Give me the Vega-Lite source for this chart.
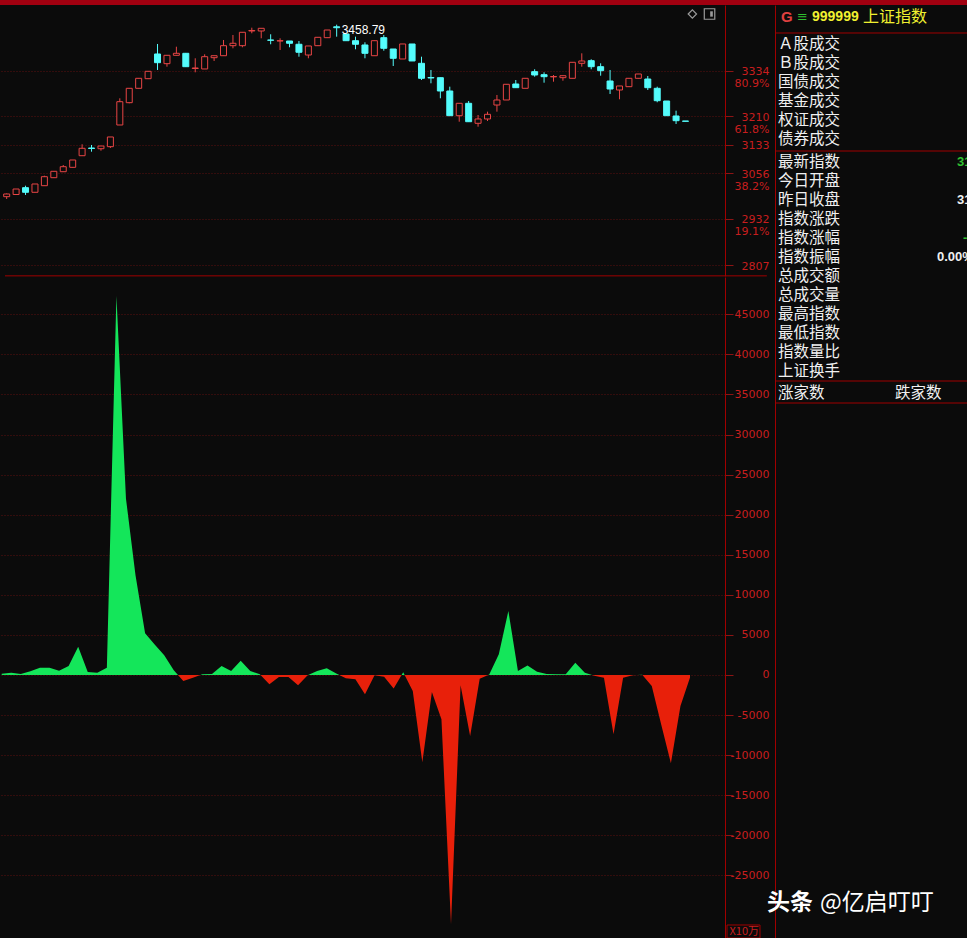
{
  "$schema": "https://vega.github.io/schema/vega-lite/v6.json",
  "background": "#0b0b0b",
  "padding": 0,
  "spacing": 0,
  "bounds": "flush",
  "config": {"view": {"stroke": null}, "font": "DejaVu Sans"},
  "datasets": {
    "days": [
      {"i":0,"o":2992.3,"h":3001.0,"l":2986.0,"c":2999.6,"v":166},
      {"i":1,"o":2998.2,"h":3013.1,"l":2998.2,"c":3013.1,"v":290},
      {"i":2,"o":3016.7,"h":3022.1,"l":2996.9,"c":3004.2,"v":125},
      {"i":3,"o":3004.2,"h":3026.7,"l":3004.2,"c":3026.7,"v":458},
      {"i":4,"o":3022.1,"h":3049.2,"l":3022.1,"c":3046.5,"v":915},
      {"i":5,"o":3043.8,"h":3061.1,"l":3043.8,"c":3061.1,"v":915},
      {"i":6,"o":3060.0,"h":3078.2,"l":3060.0,"c":3073.6,"v":541},
      {"i":7,"o":3071.9,"h":3091.8,"l":3071.9,"c":3091.8,"v":1123},
      {"i":8,"o":3103.4,"h":3134.4,"l":3103.4,"c":3123.5,"v":3536},
      {"i":9,"o":3124.3,"h":3132.5,"l":3114.3,"c":3123.0,"v":374},
      {"i":10,"o":3122.4,"h":3129.7,"l":3117.0,"c":3129.7,"v":290},
      {"i":11,"o":3127.9,"h":3154.2,"l":3124.3,"c":3154.2,"v":915},
      {"i":12,"o":3186.7,"h":3259.1,"l":3186.7,"c":3249.9,"v":47300},
      {"i":13,"o":3247.2,"h":3286.2,"l":3245.5,"c":3286.2,"v":22000},
      {"i":14,"o":3286.2,"h":3313.3,"l":3286.2,"c":3313.3,"v":12400},
      {"i":15,"o":3312.3,"h":3332.3,"l":3312.3,"c":3332.3,"v":5200},
      {"i":16,"o":3379.3,"h":3406.4,"l":3335.9,"c":3355.7,"v":3800},
      {"i":17,"o":3353.0,"h":3375.7,"l":3344.8,"c":3375.7,"v":2450},
      {"i":18,"o":3375.7,"h":3399.0,"l":3375.7,"c":3381.1,"v":580},
      {"i":19,"o":3381.1,"h":3382.0,"l":3344.0,"c":3344.8,"v":-750},
      {"i":20,"o":3339.9,"h":3367.6,"l":3329.6,"c":3341.3,"v":-330},
      {"i":21,"o":3338.6,"h":3378.4,"l":3338.6,"c":3371.9,"v":80},
      {"i":22,"o":3369.2,"h":3374.6,"l":3360.3,"c":3374.6,"v":125},
      {"i":23,"o":3374.6,"h":3417.2,"l":3374.6,"c":3401.8,"v":1120},
      {"i":24,"o":3401.8,"h":3430.8,"l":3394.7,"c":3408.3,"v":500},
      {"i":25,"o":3401.8,"h":3438.1,"l":3397.4,"c":3438.1,"v":1790},
      {"i":26,"o":3441.6,"h":3450.6,"l":3435.4,"c":3443.0,"v":500},
      {"i":27,"o":3441.6,"h":3448.9,"l":3421.8,"c":3448.9,"v":80},
      {"i":28,"o":3417.2,"h":3432.7,"l":3405.6,"c":3416.4,"v":-1165},
      {"i":29,"o":3414.5,"h":3421.8,"l":3390.1,"c":3415.3,"v":-250},
      {"i":30,"o":3414.5,"h":3414.5,"l":3397.4,"c":3408.3,"v":-250},
      {"i":31,"o":3405.6,"h":3414.5,"l":3371.9,"c":3383.9,"v":-1290},
      {"i":32,"o":3376.5,"h":3401.0,"l":3367.6,"c":3401.0,"v":-40},
      {"i":33,"o":3401.8,"h":3424.5,"l":3401.8,"c":3424.5,"v":500},
      {"i":34,"o":3423.5,"h":3444.3,"l":3423.5,"c":3444.3,"v":830},
      {"i":35,"o":3453.0,"h":3458.79,"l":3426.2,"c":3450.5,"v":200},
      {"i":36,"o":3433.5,"h":3433.5,"l":3415.3,"c":3415.3,"v":-416},
      {"i":37,"o":3415.3,"h":3426.2,"l":3392.0,"c":3405.6,"v":-540},
      {"i":38,"o":3403.7,"h":3411.0,"l":3367.6,"c":3381.1,"v":-2410},
      {"i":39,"o":3374.6,"h":3415.3,"l":3374.6,"c":3415.3,"v":-40},
      {"i":40,"o":3423.5,"h":3430.8,"l":3388.2,"c":3394.7,"v":-210},
      {"i":41,"o":3392.8,"h":3392.8,"l":3346.7,"c":3367.6,"v":-1700},
      {"i":42,"o":3365.7,"h":3406.4,"l":3365.7,"c":3406.4,"v":330},
      {"i":43,"o":3406.4,"h":3406.4,"l":3360.3,"c":3360.3,"v":-2000},
      {"i":44,"o":3354.0,"h":3371.9,"l":3308.7,"c":3313.3,"v":-10900},
      {"i":45,"o":3315.5,"h":3335.9,"l":3299.8,"c":3314.2,"v":-2120},
      {"i":46,"o":3315.0,"h":3315.0,"l":3259.1,"c":3278.9,"v":-5530},
      {"i":47,"o":3278.9,"h":3290.6,"l":3211.9,"c":3211.9,"v":-31100},
      {"i":48,"o":3211.9,"h":3245.5,"l":3195.6,"c":3245.5,"v":-1290},
      {"i":49,"o":3245.5,"h":3251.8,"l":3195.6,"c":3195.6,"v":-7600},
      {"i":50,"o":3191.3,"h":3213.8,"l":3182.1,"c":3203.0,"v":-460},
      {"i":51,"o":3203.0,"h":3222.8,"l":3197.5,"c":3215.7,"v":50},
      {"i":52,"o":3240.9,"h":3268.1,"l":3222.8,"c":3254.5,"v":2580},
      {"i":53,"o":3254.5,"h":3297.1,"l":3254.5,"c":3297.1,"v":7990},
      {"i":54,"o":3297.9,"h":3308.7,"l":3287.9,"c":3287.9,"v":500},
      {"i":55,"o":3286.2,"h":3313.3,"l":3286.2,"c":3313.3,"v":1200},
      {"i":56,"o":3331.3,"h":3337.8,"l":3317.7,"c":3322.3,"v":416},
      {"i":57,"o":3323.1,"h":3329.6,"l":3301.4,"c":3317.7,"v":125},
      {"i":58,"o":3317.2,"h":3322.3,"l":3304.1,"c":3318.2,"v":80},
      {"i":59,"o":3315.0,"h":3320.4,"l":3306.8,"c":3320.4,"v":80},
      {"i":60,"o":3313.3,"h":3356.7,"l":3313.3,"c":3356.7,"v":1540},
      {"i":61,"o":3354.0,"h":3381.1,"l":3344.8,"c":3360.3,"v":290},
      {"i":62,"o":3361.1,"h":3364.9,"l":3337.8,"c":3344.8,"v":-80},
      {"i":63,"o":3344.8,"h":3354.0,"l":3320.4,"c":3334.0,"v":-330},
      {"i":64,"o":3306.0,"h":3335.9,"l":3270.8,"c":3284.3,"v":-7400},
      {"i":65,"o":3281.6,"h":3292.5,"l":3256.4,"c":3292.5,"v":-330},
      {"i":66,"o":3290.6,"h":3313.3,"l":3290.6,"c":3313.3,"v":-40},
      {"i":67,"o":3313.3,"h":3325.0,"l":3313.3,"c":3325.0,"v":30},
      {"i":68,"o":3311.4,"h":3319.6,"l":3281.6,"c":3287.9,"v":-1370},
      {"i":69,"o":3286.2,"h":3290.6,"l":3248.3,"c":3252.6,"v":-6240},
      {"i":70,"o":3251.8,"h":3251.8,"l":3211.9,"c":3211.9,"v":-11000},
      {"i":71,"o":3211.1,"h":3225.5,"l":3189.4,"c":3198.4,"v":-3870},
      {"i":72,"o":3197.5,"h":3197.5,"l":3196.7,"c":3196.7,"v":-300}
    ],
    "info": [
      {"g":"s1","r":1,"t":"Ａ股成交"},
      {"g":"s1","r":2,"t":"Ｂ股成交"},
      {"g":"s1","r":3,"t":"国债成交"},
      {"g":"s1","r":4,"t":"基金成交"},
      {"g":"s1","r":5,"t":"权证成交"},
      {"g":"s1","r":6,"t":"债券成交"},
      {"g":"s2","r":7,"t":"最新指数"},
      {"g":"s2","r":8,"t":"今日开盘"},
      {"g":"s2","r":9,"t":"昨日收盘"},
      {"g":"s2","r":10,"t":"指数涨跌"},
      {"g":"s2","r":11,"t":"指数涨幅"},
      {"g":"s2","r":12,"t":"指数振幅"},
      {"g":"s2","r":13,"t":"总成交额"},
      {"g":"s2","r":14,"t":"总成交量"},
      {"g":"s2","r":15,"t":"最高指数"},
      {"g":"s2","r":16,"t":"最低指数"},
      {"g":"s2","r":17,"t":"指数量比"},
      {"g":"s2","r":18,"t":"上证换手"},
      {"g":"s3a","r":19,"t":"涨家数"},
      {"g":"s3b","r":19,"t":"跌家数"},
      {"g":"hG","r":0,"t":"G"},
      {"g":"hI","r":0,"t":"≡"},
      {"g":"hC","r":0,"t":"999999"},
      {"g":"hN","r":0,"t":"上证指数"},
      {"g":"v7","r":7,"t":"3196.74"},
      {"g":"v9","r":9,"t":"3197.48"},
      {"g":"v11","r":11,"t":"-0.02%"},
      {"g":"v12","r":12,"t":"0.00%"},
      {"g":"sep","r":0.421},
      {"g":"sep","r":6.632},
      {"g":"sep","r":18.737},
      {"g":"sep","r":19.895},
      {"g":"wm1","r":46.2,"t":"头条"},
      {"g":"wm2","r":46.2,"t":"@亿启叮叮"}
    ]
  },
  "vconcat": [
    {
      "width": 967,
      "height": 5,
      "view": {"fill": "#a00010", "stroke": null},
      "data": {"values": [{"k": 1}]},
      "mark": {"type": "rect", "color": "#a00010"},
      "encoding": {}
    },
    {
      "hconcat": [
        {
          "vconcat": [
            {
              "width": 725,
              "height": 271,
              "data": {"name": "days"},
              "encoding": {
                "x": {"field": "i", "type": "quantitative", "scale": {"domain": [-0.178, 75.66], "nice": false, "zero": false}, "axis": null}
              },
              "layer": [
                {
                  "mark": {"type": "rule", "strokeWidth": 1, "clip": true},
                  "encoding": {
                    "y": {
                      "field": "l", "type": "quantitative",
                      "scale": {"domain": [2777.2, 3512.1], "nice": false, "zero": false},
                      "axis": {
                        "orient": "right",
                        "values": [2807, 2932, 3056, 3133, 3210, 3334],
                        "labelExpr": "datum.value == 3334 ? ['3334', '80.9%'] : datum.value == 3210 ? ['3210', '61.8%'] : datum.value == 3056 ? ['3056', '38.2%'] : datum.value == 2932 ? ['2932', '19.1%'] : '' + datum.value",
                        "title": null,
                        "grid": true, "gridColor": "#5c1010", "gridDash": [1, 2],
                        "domain": true, "domainColor": "#a00000",
                        "ticks": true, "tickColor": "#8c1414", "tickSize": 8,
                        "labelColor": "#c81e1e", "labelFont": "DejaVu Sans", "labelFontSize": 11,
                        "labelAlign": "right", "labelPadding": 36, "labelBaseline": "top", "labelOffset": -5,
                        "labelLineHeight": 12, "labelOverlap": false, "labelBound": false, "labelFlush": false
                      }
                    },
                    "y2": {"field": "h"},
                    "color": {"condition": {"test": "datum.c >= datum.o", "value": "#e84545"}, "value": "#54fcfc"}
                  }
                },
                {
                  "mark": {"type": "bar", "width": 6, "strokeWidth": 1, "clip": true},
                  "encoding": {
                    "y": {"field": "o", "type": "quantitative"},
                    "y2": {"field": "c"},
                    "fill": {"condition": {"test": "datum.c >= datum.o", "value": "#0b0b0b"}, "value": "#54fcfc"},
                    "stroke": {"condition": {"test": "datum.c >= datum.o", "value": "#e84545"}, "value": "#54fcfc"}
                  }
                },
                {
                  "transform": [
                    {"joinaggregate": [{"op": "max", "field": "h", "as": "hmax"}]},
                    {"filter": "datum.h == datum.hmax"}
                  ],
                  "mark": {"type": "text", "align": "left", "baseline": "middle", "dx": 5, "dy": 5, "color": "#ffffff", "font": "Liberation Sans", "fontSize": 12},
                  "encoding": {
                    "y": {"field": "h", "type": "quantitative"},
                    "text": {"field": "h", "type": "quantitative", "format": ".2f"}
                  }
                },
                {
                  "transform": [{"filter": "datum.i == 72"}],
                  "mark": {"type": "point", "shape": "diamond", "filled": false, "size": 70, "stroke": "#9a9a9a", "strokeWidth": 1.2, "opacity": 1},
                  "encoding": {
                    "x": {"datum": 72.73, "type": "quantitative"},
                    "y": {"datum": 3487.7, "type": "quantitative"}
                  }
                },
                {
                  "transform": [{"filter": "datum.i == 72"}],
                  "mark": {"type": "point", "shape": "square", "filled": false, "size": 110, "stroke": "#9a9a9a", "strokeWidth": 1.2, "opacity": 1},
                  "encoding": {
                    "x": {"datum": 74.55, "type": "quantitative"},
                    "y": {"datum": 3487.7, "type": "quantitative"}
                  }
                },
                {
                  "transform": [{"filter": "datum.i == 72"}],
                  "mark": {"type": "rect", "fill": "#9a9a9a"},
                  "encoding": {
                    "x": {"datum": 74.62, "type": "quantitative"},
                    "x2": {"datum": 74.9},
                    "y": {"datum": 3495.0, "type": "quantitative"},
                    "y2": {"datum": 3480.5}
                  }
                },
                {
                  "transform": [{"filter": "datum.i == 72"}],
                  "mark": {"type": "rule", "color": "#a00000", "strokeWidth": 1},
                  "encoding": {
                    "x": {"datum": -0.178, "type": "quantitative"},
                    "x2": {"datum": 80.63},
                    "y": {"datum": 2777.6, "type": "quantitative"}
                  }
                }
              ]
            },
            {
              "width": 725,
              "height": 661,
              "data": {"name": "days"},
              "encoding": {
                "x": {"field": "i", "type": "quantitative", "scale": {"domain": [-0.178, 75.66], "nice": false, "zero": false}, "axis": null}
              },
              "layer": [
                {
                  "mark": {
                    "type": "area",
                    "interpolate": "linear",
                    "clip": true,
                    "fill": {
                      "gradient": "linear", "x1": 0, "y1": 0, "x2": 0, "y2": 1,
                      "stops": [
                        {"offset": 0, "color": "#14e65a"},
                        {"offset": 0.60332, "color": "#14e65a"},
                        {"offset": 0.60332, "color": "#e8200a"},
                        {"offset": 1, "color": "#e8200a"}
                      ]
                    }
                  },
                  "encoding": {
                    "y": {
                      "field": "v", "type": "quantitative",
                      "scale": {"domain": [-32814, 49657], "nice": false, "zero": false},
                      "axis": {
                        "orient": "right",
                        "values": [-25000, -20000, -15000, -10000, -5000, 0, 5000, 10000, 15000, 20000, 25000, 30000, 35000, 40000, 45000],
                        "labelExpr": "'' + datum.value",
                        "title": "X10万", "titleAngle": 0, "titleX": 4, "titleY": 654, "titleAlign": "left", "titleBaseline": "middle",
                        "titleColor": "#c81e1e", "titleFont": "Noto Sans CJK SC", "titleFontSize": 11, "titleFontWeight": "normal",
                        "grid": true, "gridColor": "#5c1010", "gridDash": [1, 2],
                        "domain": true, "domainColor": "#a00000",
                        "ticks": true, "tickColor": "#8c1414", "tickSize": 8,
                        "labelColor": "#c81e1e", "labelFont": "DejaVu Sans", "labelFontSize": 11,
                        "labelAlign": "right", "labelPadding": 36, "labelBaseline": "middle",
                        "labelOverlap": false, "labelBound": false, "labelFlush": false
                      }
                    },
                    "y2": {"datum": 0}
                  }
                },
                {
                  "transform": [{"filter": "datum.i == 72"}],
                  "mark": {"type": "rect", "fill": "#0b0b0b", "fillOpacity": 0, "stroke": "#a00000", "strokeWidth": 1},
                  "encoding": {
                    "x": {"datum": 75.87, "type": "quantitative"},
                    "x2": {"datum": 79.32},
                    "y": {"datum": -31192, "type": "quantitative"},
                    "y2": {"datum": -32814}
                  }
                }
              ]
            }
          ],
          "spacing": 1,
          "bounds": "flush"
        },
        {
          "width": 192,
          "height": 933,
          "data": {"name": "info"},
          "encoding": {
            "y": {
              "field": "r", "type": "quantitative",
              "scale": {"domain": [-1.05263, 48.0526], "reverse": true, "nice": false, "zero": false},
              "axis": {"orient": "left", "domain": true, "domainColor": "#a00000", "labels": false, "ticks": false, "grid": false, "title": null}
            }
          },
          "layer": [
            {
              "transform": [{"filter": "datum.g == 'sep'"}],
              "mark": {"type": "rule", "color": "#a00000", "strokeWidth": 1},
              "encoding": {}
            },
            {
              "transform": [{"filter": "datum.g == 's1'"}],
              "mark": {"type": "text", "align": "left", "baseline": "middle", "font": "Noto Sans CJK SC", "fontSize": 15.5, "color": "#f0f0f0"},
              "encoding": {"x": {"datum": 3, "type": "quantitative", "scale": {"domain": [0, 192], "nice": false, "zero": false}, "axis": null}, "text": {"field": "t"}}
            },
            {
              "transform": [{"filter": "datum.g == 's2'"}],
              "mark": {"type": "text", "align": "left", "baseline": "middle", "dy": 3.5, "font": "Noto Sans CJK SC", "fontSize": 15.5, "color": "#f0f0f0"},
              "encoding": {"x": {"datum": 3, "type": "quantitative", "scale": {"domain": [0, 192], "nice": false, "zero": false}, "axis": null}, "text": {"field": "t"}}
            },
            {
              "transform": [{"filter": "datum.g == 's3a'"}],
              "mark": {"type": "text", "align": "left", "baseline": "middle", "dy": 7, "font": "Noto Sans CJK SC", "fontSize": 15.5, "color": "#f0f0f0"},
              "encoding": {"x": {"datum": 3, "type": "quantitative", "scale": {"domain": [0, 192], "nice": false, "zero": false}, "axis": null}, "text": {"field": "t"}}
            },
            {
              "transform": [{"filter": "datum.g == 's3b'"}],
              "mark": {"type": "text", "align": "left", "baseline": "middle", "dy": 7, "font": "Noto Sans CJK SC", "fontSize": 15.5, "color": "#f0f0f0"},
              "encoding": {"x": {"datum": 120, "type": "quantitative", "scale": {"domain": [0, 192], "nice": false, "zero": false}, "axis": null}, "text": {"field": "t"}}
            },
            {
              "transform": [{"filter": "datum.g == 'hG'"}],
              "mark": {"type": "text", "align": "left", "baseline": "middle", "dy": -7.5, "font": "Liberation Sans", "fontWeight": "bold", "fontSize": 15, "color": "#e04040"},
              "encoding": {"x": {"datum": 6, "type": "quantitative", "scale": {"domain": [0, 192], "nice": false, "zero": false}, "axis": null}, "text": {"field": "t"}}
            },
            {
              "transform": [{"filter": "datum.g == 'hI'"}],
              "mark": {"type": "text", "align": "left", "baseline": "middle", "dy": -7.5, "font": "DejaVu Sans", "fontSize": 13, "color": "#30c030"},
              "encoding": {"x": {"datum": 22, "type": "quantitative", "scale": {"domain": [0, 192], "nice": false, "zero": false}, "axis": null}, "text": {"field": "t"}}
            },
            {
              "transform": [{"filter": "datum.g == 'hC'"}],
              "mark": {"type": "text", "align": "left", "baseline": "middle", "dy": -7.5, "font": "Liberation Sans", "fontWeight": "bold", "fontSize": 14, "color": "#f0f030"},
              "encoding": {"x": {"datum": 37, "type": "quantitative", "scale": {"domain": [0, 192], "nice": false, "zero": false}, "axis": null}, "text": {"field": "t"}}
            },
            {
              "transform": [{"filter": "datum.g == 'hN'"}],
              "mark": {"type": "text", "align": "left", "baseline": "middle", "dy": -7.5, "font": "Noto Sans CJK SC", "fontSize": 16, "color": "#f0f030"},
              "encoding": {"x": {"datum": 88, "type": "quantitative", "scale": {"domain": [0, 192], "nice": false, "zero": false}, "axis": null}, "text": {"field": "t"}}
            },
            {
              "transform": [{"filter": "datum.g == 'v7'"}],
              "mark": {"type": "text", "align": "left", "baseline": "middle", "dy": 3.5, "clip": true, "font": "Liberation Sans", "fontWeight": "bold", "fontSize": 13, "color": "#30c030"},
              "encoding": {"x": {"datum": 182, "type": "quantitative", "scale": {"domain": [0, 192], "nice": false, "zero": false}, "axis": null}, "text": {"field": "t"}}
            },
            {
              "transform": [{"filter": "datum.g == 'v9'"}],
              "mark": {"type": "text", "align": "left", "baseline": "middle", "dy": 3.5, "clip": true, "font": "Liberation Sans", "fontWeight": "bold", "fontSize": 13, "color": "#f0f0f0"},
              "encoding": {"x": {"datum": 182, "type": "quantitative", "scale": {"domain": [0, 192], "nice": false, "zero": false}, "axis": null}, "text": {"field": "t"}}
            },
            {
              "transform": [{"filter": "datum.g == 'v11'"}],
              "mark": {"type": "text", "align": "left", "baseline": "middle", "dy": 3.5, "clip": true, "font": "Liberation Sans", "fontWeight": "bold", "fontSize": 13, "color": "#30c030"},
              "encoding": {"x": {"datum": 188, "type": "quantitative", "scale": {"domain": [0, 192], "nice": false, "zero": false}, "axis": null}, "text": {"field": "t"}}
            },
            {
              "transform": [{"filter": "datum.g == 'v12'"}],
              "mark": {"type": "text", "align": "left", "baseline": "middle", "dy": 3.5, "clip": true, "font": "Liberation Sans", "fontWeight": "bold", "fontSize": 13, "color": "#f0f0f0"},
              "encoding": {"x": {"datum": 162, "type": "quantitative", "scale": {"domain": [0, 192], "nice": false, "zero": false}, "axis": null}, "text": {"field": "t"}}
            },
            {
              "transform": [{"filter": "datum.g == 'wm1'"}],
              "mark": {"type": "text", "align": "left", "baseline": "middle", "font": "Noto Sans CJK SC", "fontWeight": "bold", "fontSize": 23, "color": "#ffffff"},
              "encoding": {"x": {"datum": -8, "type": "quantitative", "scale": {"domain": [0, 192], "nice": false, "zero": false}, "axis": null}, "text": {"field": "t"}}
            },
            {
              "transform": [{"filter": "datum.g == 'wm2'"}],
              "mark": {"type": "text", "align": "left", "baseline": "middle", "font": "Noto Sans CJK SC", "fontSize": 23, "color": "#ffffff"},
              "encoding": {"x": {"datum": 45, "type": "quantitative", "scale": {"domain": [0, 192], "nice": false, "zero": false}, "axis": null}, "text": {"field": "t"}}
            }
          ]
        }
      ],
      "spacing": -2
    }
  ]
}
